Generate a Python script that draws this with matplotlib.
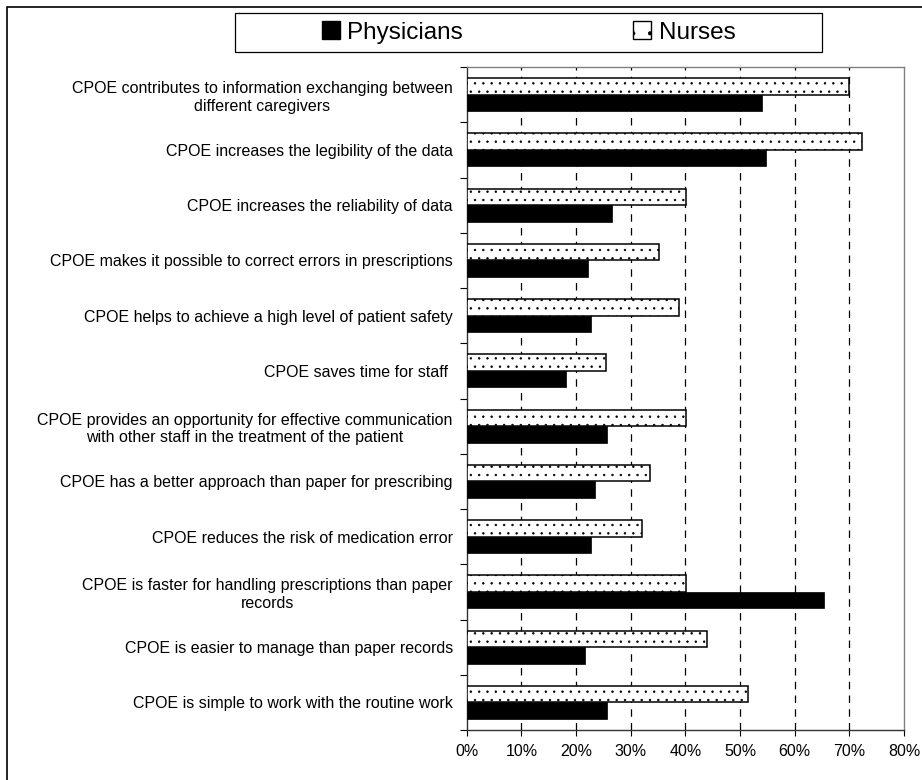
import matplotlib
matplotlib.use("Agg")
import matplotlib.pyplot as plt
from matplotlib.patches import Rectangle, Patch
from matplotlib.ticker import FuncFormatter, FixedLocator
import numpy as np

plt.rcParams['font.family'] = ['Liberation Sans', 'DejaVu Sans']
plt.rcParams['hatch.linewidth'] = 0.5
plt.rcParams['hatch.color'] = '#444444'

categories = [
    "CPOE contributes to information exchanging between\ndifferent caregivers",
    "CPOE increases the legibility of the data",
    "CPOE increases the reliability of data",
    "CPOE makes it possible to correct errors in prescriptions",
    "CPOE helps to achieve a high level of patient safety",
    "CPOE saves time for staff ",
    "CPOE provides an opportunity for effective communication\nwith other staff in the treatment of the patient",
    "CPOE has a better approach than paper for prescribing",
    "CPOE reduces the risk of medication error",
    "CPOE is faster for handling prescriptions than paper\nrecords",
    "CPOE is easier to manage than paper records",
    "CPOE is simple to work with the routine work",
]
nurses = [70.0, 72.3, 40.2, 35.1, 38.8, 25.4, 40.2, 33.5, 32.0, 40.2, 43.9, 51.4]
physicians = [54.0, 54.7, 26.6, 22.2, 22.7, 18.2, 25.7, 23.4, 22.7, 65.4, 21.7, 25.7]
xticks = [0, 10, 20, 30, 40, 50, 60, 70, 80]

W, H = 922, 780
fig = plt.figure(figsize=(W / 100, H / 100), dpi=100)
ax = fig.add_axes([466.7 / W, 1 - 730 / H, (904 - 466.7) / W, (730 - 67) / H])

y = np.arange(len(categories))
bh = 0.3
ax.barh(y - bh / 2, nurses, height=bh, color='white', edgecolor='black',
        hatch='..', linewidth=1.1, zorder=3)
ax.barh(y + bh / 2, physicians, height=bh, color='black', edgecolor='black',
        linewidth=0.5, zorder=3)

ax.set_xlim(0, 80)
ax.set_ylim(len(categories) - 0.5, -0.5)

ax.set_xticks(xticks)
ax.xaxis.set_major_formatter(FuncFormatter(lambda v, p: f"{int(v)}%"))
ax.tick_params(axis='x', length=4, width=0.8, labelsize=11.5, pad=6, colors='black')

ax.set_yticks(y)
ax.set_yticklabels(categories, fontsize=11.5, multialignment='center', linespacing=1.2)
ax.tick_params(axis='y', which='major', length=0, pad=10)
ax.yaxis.set_minor_locator(FixedLocator(np.arange(-0.5, len(categories), 1.0)))
ax.tick_params(axis='y', which='minor', length=5, width=0.8)

for v in xticks[1:-1]:
    ax.axvline(v, color='black', linestyle=(0, (6, 5)), linewidth=0.9, zorder=1)

for s in ['top', 'right']:
    ax.spines[s].set_color('#808080')
    ax.spines[s].set_linewidth(1.0)
for s in ['left', 'bottom']:
    ax.spines[s].set_color('#333333')
    ax.spines[s].set_linewidth(1.0)

# legend box
lx0, lx1, ly0, ly1 = 235, 822, 13, 52
fig.patches.append(Rectangle((lx0 / W, 1 - ly1 / H), (lx1 - lx0) / W, (ly1 - ly0) / H,
                             transform=fig.transFigure, facecolor='white',
                             edgecolor='black', linewidth=0.9))
handles = [Patch(facecolor='black', edgecolor='black', label='Physicians'),
           Patch(facecolor='white', edgecolor='black', hatch='.', label='Nurses')]
fig.legend(handles=handles, loc='center', ncol=2, frameon=False,
           bbox_to_anchor=((lx0 + lx1) / 2 / W, 1 - (ly0 + ly1) / 2 / H),
           fontsize=17.5, handlelength=0.75, handleheight=0.75, handletextpad=0.3,
           columnspacing=7.0)

# outer figure border (cropped at right and bottom)
fig.patches.append(Rectangle((7.3 / W, -0.1), 1.2, 1.1 - 7.3 / H,
                             transform=fig.transFigure, facecolor='none',
                             edgecolor='black', linewidth=1.2, clip_on=False))

fig.savefig("out.png", dpi=100)
